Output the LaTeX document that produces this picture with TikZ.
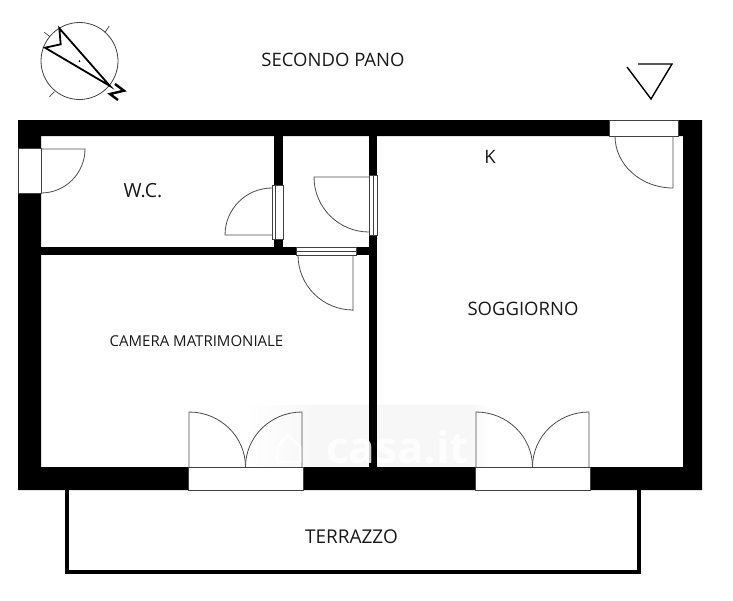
\documentclass[tikz,border=0pt]{standalone}
\usepackage{fontspec}
\setmainfont{Open Sans}
\usetikzlibrary{positioning}
\begin{document}
\begin{tikzpicture}[
x=1pt,y=-1pt,
wall/.style={
  fill=black,
  draw=none
},
casement/.style={
  draw=black!75,
  fill=white,
  line width=0.7pt
},
leaf/.style={
  draw=black!70,
  line width=0.8pt
},
symbol/.style={
  draw=black,
  line width=1.8pt
},
room/.style={
  inner sep=0pt,
  text=black!90,
  font=\fontsize{18.5}{18.5}\selectfont
},
]
\useasboundingbox (0,0) rectangle (733,600);
% watermark haze
\shade[left color=white,right color=black!3] (245,405) rectangle (310,467);
\fill[black!3] (310,405) rectangle (470,467);
\shade[left color=black!3,right color=white] (470,405) rectangle (490,467);

% walls
\fill[wall,even odd rule] (18,120) rectangle (702,490) (41,136) rectangle (683,467);
\fill[wall] (274,136) rectangle (283,247);
\fill[wall] (369,136) rectangle (377,467);
\fill[wall] (41,247) rectangle (369,255);
\draw[line width=4pt] (67,490) -- (67,572) -- (639,572) -- (639,490);

% openings
\draw[casement] (18,148) rectangle (41,193);
\draw[casement] (272,185) rectangle (283,239);
\draw[casement] (275.5,185) -- (275.5,239);
\draw[casement] (369,175) rectangle (377,235);
\draw[casement] (373,175) -- (373,235);
\draw[casement] (296,247) rectangle (356,255);
\draw[casement] (296,251) -- (356,251);
\draw[casement] (609,120) rectangle (678,136);
\draw[casement] (188,467) rectangle (303,490);
\draw[casement] (475,467) rectangle (590,490);

% door leaves
\draw[leaf] (41,149) -- (85,149) arc[start angle=0,end angle=90,radius=44];
\draw[leaf] (272,235) -- (225,235) arc[start angle=180,end angle=270,radius=47];
\draw[leaf] (369,177) -- (314,177) arc[start angle=180,end angle=90,radius=55];
\draw[leaf] (353,255) -- (353,311) (298,255) arc[start angle=180,end angle=90,radius=55];
\draw[leaf] (673,136) -- (673,188) (615,136) arc[start angle=180,end angle=90,x radius=58,y radius=52];
\foreach \xa/\xb in {189/302,476/589}{
  \draw[leaf] (\xa,467) -- (\xa,412) arc[start angle=270,end angle=360,x radius=56.5,y radius=55];
  \draw[leaf] (\xb,467) -- (\xb,412) arc[start angle=270,end angle=180,x radius=56.5,y radius=55];
}

% north mark
\draw[black!75,line width=0.8pt] (79.5,61) circle[radius=38.5];
\draw[black!75,line width=0.7pt] (44.3,32.3) -- (50,36.7) (109.3,26) -- (105,32.3) (54.3,91.7) -- (49.3,97);
\fill (79.5,61) circle[radius=1];
\draw[symbol,line join=miter] (59.3,28.3) -- (60.7,44.3) -- (45,47.7) -- (110,86) -- cycle;
\draw[symbol,line width=2.4pt] (115,84) -- (124,90.7) -- (110,94) -- (118,100);

% section mark
\draw[symbol,line width=1.4pt] (627,67) -- (651,99) -- (672,64) -- (638,64);

% labels
\node[room] (floor) at (333,60) {SECONDO PANO};
\node[room,font=\fontsize{19.5}{19.5}\selectfont] (wc) at (143,191) {W.C.};
\node[room] (k) at (490,157) {K};
\node[room] (living) at (523,309) {SOGGIORNO};
\node[room,font=\fontsize{15}{15}\selectfont] (bedroom) at (196.5,341) {CAMERA MATRIMONIALE};
\node[room,font=\fontsize{19}{19}\selectfont] (terrace) at (351.5,537) {TERRAZZO};

% watermark
\draw[white,opacity=0.8,line width=2.5pt,line join=round] (277,447) -- (288,435) -- (300,447) -- (300,462) -- (277,462) -- cycle;
\node[room,anchor=base west,text=white,opacity=0.8,font=\fontsize{44}{44}\selectfont\bfseries] (mark) at (326,463) {casa.it};
\end{tikzpicture}
\end{document}
